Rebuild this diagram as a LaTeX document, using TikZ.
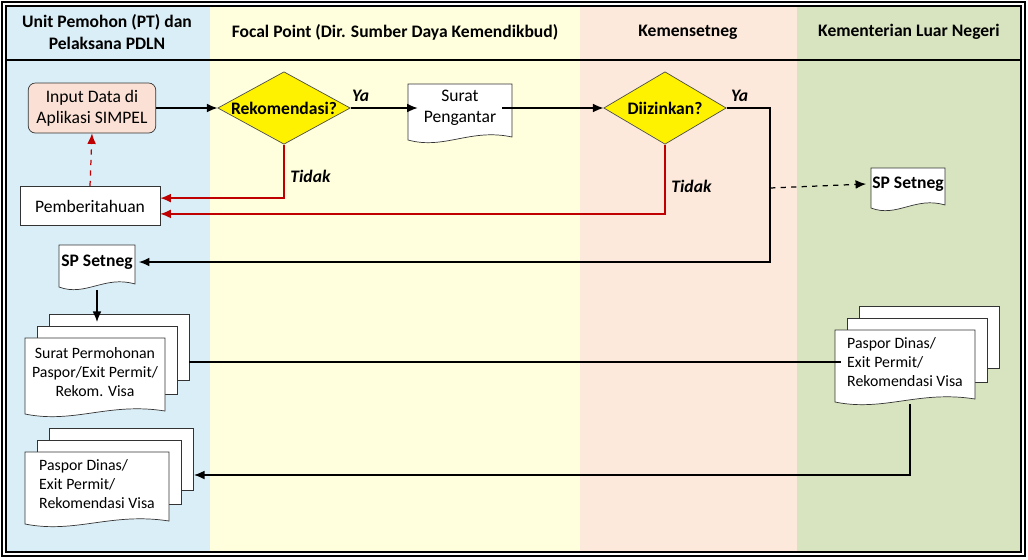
\documentclass[tikz,border=0pt]{standalone}
\usepackage{fontspec}
\setmainfont{Carlito}
\usetikzlibrary{calc,shapes.geometric,arrows.meta}

\definecolor{laneA}{HTML}{DAEEF7}
\definecolor{laneB}{HTML}{FFFFDD}
\definecolor{laneC}{HTML}{FDE9DB}
\definecolor{laneD}{HTML}{D8E4BF}
\definecolor{inputfill}{HTML}{FBE1D5}
\definecolor{nored}{HTML}{C00000}

\tikzset{
  flow/.style={draw,line width=0.7pt,-{Latex[length=6pt,width=5pt]}},
  back/.style={flow,nored},
  decide/.style={diamond,draw=black!70,fill=yellow,aspect=1.9,inner sep=0pt,font=\bfseries},
  plainbox/.style={rectangle,draw=black!80,fill=white,font=\fontsize{9}{11}\selectfont,align=center},
  lab/.style={font=\bfseries\itshape},
  hdr/.style={font=\bfseries,align=center}
}

% wavy document; #1 name, #2 centre, #3 half width, #4 half height, #5 text options, #6 text
\newcommand\docbox[6]{
  \fill[white,draw=black!80] ($(#2)+(-#3,-#4)$) -- ($(#2)+(#3,-#4)$) -- ($(#2)+(#3,#4-3)$)
    .. controls ($(#2)+(0.2*#3,#4-12)$) and ($(#2)+(-0.3*#3,#4+10)$) .. ($(#2)+(-#3,#4)$) -- cycle;
  \node[align=center,#5] (#1) at ($(#2)+(0,-4)$) {#6};
}
\newcommand\docstack[6]{
  \draw[fill=white,draw=black!80] ($(#2)+(-#3+24,-#4-24)$) rectangle ($(#2)+(#3+24,#4-24-10)$);
  \draw[fill=white,draw=black!80] ($(#2)+(-#3+12,-#4-12)$) rectangle ($(#2)+(#3+12,#4-12-8)$);
  \docbox{#1}{#2}{#3}{#4}{#5}{#6}
}

\begin{document}
\begin{tikzpicture}[x=0.02cm,y=-0.02cm,font=\fontsize{9}{11}\selectfont]
  \useasboundingbox (0,0) rectangle (1028,559);
  % lanes
  \fill[laneA] (5,5) rectangle (210,553);
  \fill[laneB] (210,5) rectangle (580,553);
  \fill[laneC] (580,5) rectangle (797,553);
  \fill[laneD] (797,5) rectangle (1022,553);
  \draw[line width=1.5pt] (2,2) rectangle (1025,556);
  \draw[line width=0.6pt] (6,6) rectangle (1021,552);
  \draw[line width=1.5pt] (5,60) -- (1022,60);

  \node[hdr] (h1) at (107,32) {Unit Pemohon (PT) dan\\Pelaksana PDLN};
  \node[hdr] (h2) at (395,32) {Focal Point (Dir. Sumber Daya Kemendikbud)};
  \node[hdr] (h3) at (688,32) {Kemensetneg};
  \node[hdr] (h4) at (909,32) {Kementerian Luar Negeri};

  % nodes
  \node[plainbox,rounded corners=4pt,fill=inputfill,minimum width=2.55cm,minimum height=1cm,font=\fontsize{10}{12}\selectfont] (input) at (92,108) {Input Data di\\Aplikasi SIMPEL};
  \node[decide,minimum width=2.65cm,minimum height=1.45cm] (rek) at (284,108) {Rekomendasi?};
  \docbox{surat}{460,112}{52}{28}{font=\fontsize{10}{12}\selectfont}{Surat\\Pengantar}
  \node[decide,minimum width=2.45cm,minimum height=1.45cm] (izin) at (665,108) {Diizinkan?};
  \node[plainbox,minimum width=2.8cm,minimum height=0.78cm,font=\fontsize{10}{12}\selectfont] (pember) at (90,206) {Pemberitahuan};
  \docbox{spl}{97,266}{38}{21}{font=\bfseries}{SP Setneg}
  \docbox{spr}{908,188}{37}{20}{font=\bfseries}{SP Setneg}
  \docstack{mohon}{95,376}{70}{38}{}{Surat Permohonan\\Paspor/Exit Permit/\\Rekom. Visa}
  \docstack{paspr}{905,366}{70}{36}{align=left}{Paspor Dinas/\\Exit Permit/\\Rekomendasi Visa}
  \docstack{paspl}{97,488}{72}{36}{align=left}{Paspor Dinas/\\Exit Permit/\\Rekomendasi Visa}

  \coordinate (turn) at (770,108);
  \coordinate (split) at (770,188);
  \coordinate (down) at (910,475);

  % connectors
  \draw[flow] (input) -- (rek);
  \draw[flow] (rek) -- node[lab,above,pos=0.15] {Ya} (surat.west |- rek);
  \draw[flow] (surat.east |- izin) -- (izin);
  \draw[flow] (izin.east) -- node[lab,above,pos=0.3] {Ya} (turn) -- (turn |- spl.east) -- (spl.east);
  \draw[flow,dashed] (split) -- (spr.west);
  \draw[back] (rek.south) |- node[lab,black,pos=0.3,right] {Tidak} ([yshift=4.5pt]pember.east);
  \draw[back] (izin.south) |- node[lab,black,pos=0.3,right] {Tidak} ([yshift=-4.5pt]pember.east);
  \draw[back,dashed] (pember.north) -- (input.south);
  \draw[flow] (spl.south |- 0,290) -- (spl.south |- 0,322);
  \draw[line width=0.7pt] (189,362) -- (paspr.west |- 0,362);
  \draw[flow] (down |- 0,404) -- (down) -- (194,475);
\end{tikzpicture}
\end{document}
